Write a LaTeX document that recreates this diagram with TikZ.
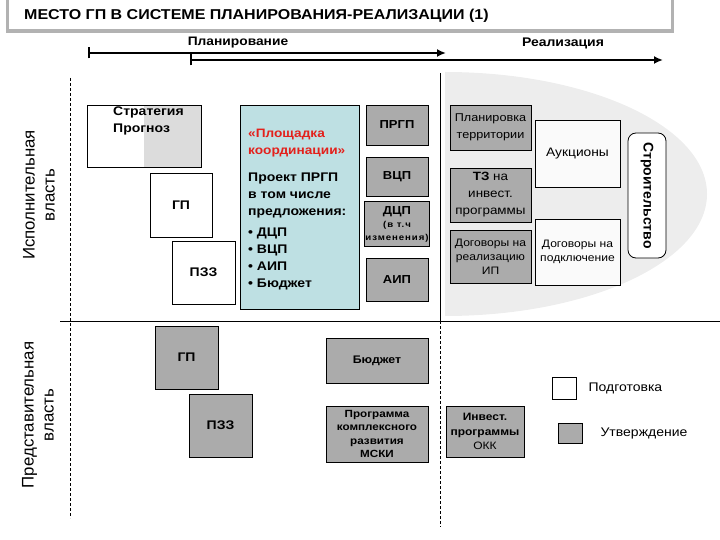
\documentclass[tikz,border=0pt]{standalone}
\usepackage{fontspec}
\setmainfont{Liberation Sans}[FakeStretch=1.12]
\newfontfamily\rotfont{Liberation Sans}
\usepackage{tikz}
\usetikzlibrary{arrows.meta,positioning,calc}
\definecolor{boxgray}{HTML}{ABABAB}
\definecolor{halfgray}{HTML}{DCDCDC}
\definecolor{realgray}{HTML}{EDEDED}
\definecolor{coordblue}{HTML}{BEE0E3}
\definecolor{coordred}{HTML}{E3211C}

\begin{document}
\begin{tikzpicture}[
 x=1pt,y=-1pt,
 b/.style={draw,line width=0.8pt,fill=white,align=center,inner sep=1pt},
 g/.style={b,fill=boxgray},
 a/.style={{Bar[width=11pt,line width=2pt]}-{Latex[length=9pt,width=8pt]},line width=2.2pt}
]
\useasboundingbox (0,0) rectangle (720,540);
% title bar
\fill[gray!60] (6,-2) rectangle (674,33);
\fill[white] (9,-2) rectangle (671,29);
\node[anchor=west,inner sep=0,font=\fontsize{14.3}{16}\selectfont\bfseries] (title) at (24,16) {МЕСТО ГП В СИСТЕМЕ ПЛАНИРОВАНИЯ-РЕАЛИЗАЦИИ (1)};
% phases
\coordinate (p0) at (88,53);
\coordinate (p1) at (446,53);
\coordinate (r0) at (190,60);
\coordinate (r1) at (663,60);
\draw[a] (p0) -- (p1);
\draw[a] (r0) -- (r1);
\node[font=\fontsize{12.3}{14}\selectfont\bfseries] (planlbl) at (238,43) {Планирование};
\node[font=\fontsize{12.5}{14}\selectfont\bfseries] (reallbl) at (563,43) {Реализация};
% realisation area
\begin{scope}
 \clip (445,60) rectangle (720,330);
 \fill[realgray] (445,194) ellipse[x radius=262,y radius=122];
\end{scope}
\draw[densely dashed] (70,78) -- (70,518);
\draw (440,73) -- (440,321);
\draw[densely dashed] (440,321) -- (440,527);
\draw (60,321) -- (720,321);
\node[rotate=90,align=center,font=\rotfont\fontsize{16.8}{20}\selectfont] (exec) at (39,195) {Исполнительная\\власть};
\node[rotate=90,align=center,font=\rotfont\fontsize{16.8}{20}\selectfont] (repr) at (38,415) {Представительная\\власть};

% executive: planning
\node[b,minimum width=114,minimum height=62,
 path picture={\fill[halfgray] (path picture bounding box.north) rectangle (path picture bounding box.south east);}] (strat) at (144,136) {};
\node[anchor=north west,align=left,inner sep=0,font=\fontsize{12.5}{17}\selectfont\bfseries] (strattxt) at (113,107) {Стратегия\\Прогноз};
\node[b,minimum width=62,minimum height=64,font=\fontsize{12.5}{15}\selectfont\bfseries] (gp) at (181,205) {ГП};
\node[b,minimum width=63,minimum height=63,font=\fontsize{12.5}{15}\selectfont\bfseries] (pzz) at (203.5,272.5) {ПЗЗ};
\node[b,fill=coordblue,minimum width=119,minimum height=204] (coord) at (299.5,207) {};
\node[anchor=north west,align=left,inner sep=0,text=coordred,font=\fontsize{12.2}{17}\selectfont\bfseries] (coordhead) at (248,128.5) {«Площадка\\координации»};
\node[anchor=north west,align=left,inner sep=0,font=\fontsize{12.5}{17}\selectfont\bfseries] (coordbody) at (248,172.5) {Проект ПРГП\\в том числе\\предложения:\\[4pt]• ДЦП\\• ВЦП\\• АИП\\• Бюджет};
\node[g,minimum width=62,minimum height=40,font=\fontsize{11.6}{14}\selectfont\bfseries] (prgp) at (397,125) {ПРГП};
\node[g,minimum width=62,minimum height=39,font=\fontsize{11.6}{14}\selectfont\bfseries] (vcp) at (397,176.5) {ВЦП};
\node[g,minimum width=62,minimum height=45,font=\fontsize{11.6}{13}\selectfont\bfseries] (dcp) at (397,224) {ДЦП\\{\fontsize{8.6}{11}\selectfont\addfontfeature{LetterSpace=11}(в т.ч}\\{\fontsize{8.6}{11}\selectfont\addfontfeature{LetterSpace=11}изменения)}};
\node[g,minimum width=62,minimum height=43,font=\fontsize{11.6}{14}\selectfont\bfseries] (aip) at (397,279.5) {АИП};

% executive: realisation
\node[g,minimum width=81,minimum height=45,font=\fontsize{11.3}{17}\selectfont] (terr) at (490.5,127.5) {Планировка\\территории};
\node[g,minimum width=81,minimum height=54,font=\fontsize{12}{17}\selectfont] (tz) at (490.5,195) {\textbf{ТЗ} на\\инвест.\\программы};
\node[g,minimum width=81,minimum height=53,font=\fontsize{10.8}{14}\selectfont] (dogip) at (490.5,256.5) {Договоры на\\реализацию\\ИП};
\node[b,fill=gray!4,minimum width=85,minimum height=67,font=\fontsize{12.3}{15}\selectfont] (auk) at (577.5,153.5) {Аукционы};
\node[b,fill=gray!4,minimum width=85,minimum height=66,font=\fontsize{10.8}{14}\selectfont] (dogpod) at (577.5,252) {Договоры на\\подключение};
\node[b,rounded corners=8pt,rotate=-90,minimum width=125,minimum height=38,font=\rotfont\fontsize{14}{16}\selectfont\bfseries] (stroi) at (647,195.5) {Строительство};

% representative
\node[g,minimum width=63,minimum height=63,font=\fontsize{12.5}{15}\selectfont\bfseries] (gpb) at (186.5,357.5) {ГП};
\node[g,minimum width=63,minimum height=63,font=\fontsize{12.5}{15}\selectfont\bfseries] (pzzb) at (220.5,425.5) {ПЗЗ};
\node[g,minimum width=102,minimum height=45,font=\fontsize{11}{13}\selectfont\bfseries] (budget) at (377,360.5) {Бюджет};
\node[g,minimum width=102,minimum height=56,font=\fontsize{10.4}{13.5}\selectfont\bfseries] (mski) at (377,434) {Программа\\комплексного\\развития\\МСКИ};
\node[g,minimum width=78,minimum height=51,font=\fontsize{10.7}{14.5}\selectfont] (okk) at (485,431.5) {\textbf{Инвест.}\\\textbf{программы}\\ОКК};

% legend
\node[b,minimum width=24,minimum height=22] (legprep) at (564,388) {};
\node[right=12pt of legprep,inner sep=0,font=\fontsize{12.5}{15}\selectfont] (legpreptxt) {Подготовка};
\node[g,minimum width=24,minimum height=20] (legappr) at (570,433) {};
\node[right=18pt of legappr,inner sep=0,font=\fontsize{12.5}{15}\selectfont] (legapprtxt) {Утверждение};
\end{tikzpicture}
\end{document}
